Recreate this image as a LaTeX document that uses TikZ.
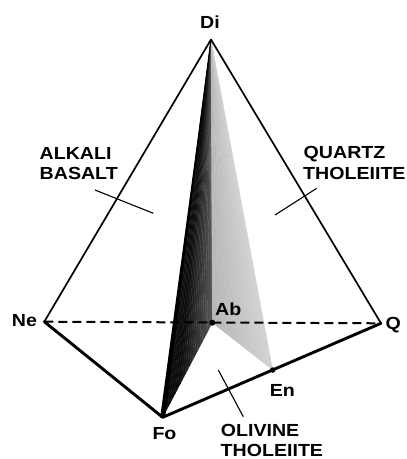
\documentclass[tikz,border=0pt]{standalone}
\usepackage{fontspec}
\usetikzlibrary{calc}
\newfontfamily\labfont[FakeStretch=1.12]{Liberation Sans Bold}
\begin{document}
\begin{tikzpicture}[x=1pt,y=-1pt,
  lab/.style={font=\labfont\fontsize{17.5}{20.5}\selectfont, inner sep=0pt, anchor=base west},
  thinedge/.style={line width=1.7pt, line cap=round},
  thickedge/.style={line width=2.9pt, line cap=round, line join=round},
  leader/.style={line width=1.1pt},
  dashedge/.style={line width=2pt, dash pattern=on 9pt off 5pt},
  dotpt/.style={circle, fill=black, inner sep=0pt, minimum size=6pt}]
\useasboundingbox (0,0) rectangle (407,459);
\coordinate (Di) at (211,39.5);
\coordinate (Ne) at (44.3,321.7);
\coordinate (Q) at (381,323.3);
\coordinate (Fo) at (162.7,417.3);
\coordinate (Ab) at (212.3,322.7);
\coordinate (En) at (272.7,370);
% dark plane Di-Fo-Ab
\foreach \i in {0,...,19} {
  \pgfmathsetmacro\ta{\i/20}
  \pgfmathsetmacro\tb{(\i+1)/20}
  \pgfmathsetmacro\g{95-30*max(0,(\ta-0.3)/0.7)}
  \filldraw[fill=black!\g, draw=black!\g, line width=0.3pt] (Di) -- ($(Fo)!\ta!(Ab)$) -- ($(Fo)!\tb!(Ab)$) -- cycle;
}
% light plane Di-Ab-En
\foreach \i in {0,...,19} {
  \pgfmathsetmacro\ta{\i/20}
  \pgfmathsetmacro\tb{(\i+1)/20}
  \pgfmathsetmacro\g{28-11*\ta}
  \filldraw[fill=black!\g, draw=black!\g, line width=0.3pt] (Di) -- ($(Ab)!\ta!(En)$) -- ($(Ab)!\tb!(En)$) -- cycle;
}
% edges
\draw[thinedge] (Di) -- (Ne);
\draw[thinedge] (Di) -- (Q);
\draw[thickedge] (Ne) -- (Fo) -- (Q);
\fill (Di) -- ([xshift=-2.5pt]Fo) -- ([xshift=2.5pt]Fo) -- cycle;
\draw[line width=1.1pt] (Di) -- (Fo);
\draw[dashedge] (Ne) -- (Q);
\node[dotpt] (ab) at (Ab) {};
\node[dotpt, minimum size=5.5pt] (en) at (En) {};
% leaders
\coordinate (la1) at (95,190);   \coordinate (la2) at (153.3,213.3);
\coordinate (lq1) at (316.7,188.3); \coordinate (lq2) at (275,215);
\coordinate (lo1) at (218.3,370); \coordinate (lo2) at (243.3,416.7);
\draw[leader] (la1) -- (la2);
\draw[leader] (lq1) -- (lq2);
\draw[leader] (lo1) -- (lo2);
% vertex labels
\node[lab, anchor=base] (tDi) at (210,28.5) {Di};
\node[lab] (tNe) at (11.7,326.7) {Ne};
\node[lab] (tQ) at (385.5,329.5) {Q};
\node[lab] (tFo) at (152.3,439.3) {Fo};
\node[lab] (tAb) at (215,315) {Ab};
\node[lab] (tEn) at (269.7,396.7) {En};
% field labels
\node[lab] (tAlk1) at (39.5,159) {ALKALI};
\node[lab] (tAlk2) at (39.5,179.3) {BASALT};
\node[lab] (tQt1) at (303.5,158.7) {QUARTZ};
\node[lab] (tQt2) at (303,179.3) {THOLEIITE};
\node[lab] (tOl1) at (220.7,436.7) {OLIVINE};
\node[lab] (tOl2) at (220.5,456.7) {THOLEIITE};
\end{tikzpicture}
\end{document}
